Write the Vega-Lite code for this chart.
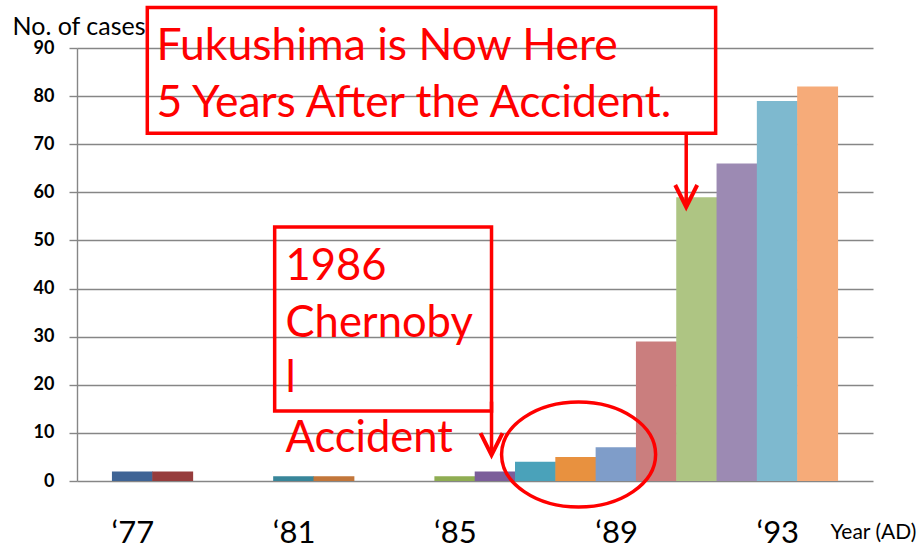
{
  "$schema": "https://vega.github.io/schema/vega-lite/v6.json",
  "width": 796,
  "height": 433,
  "autosize": {"type": "none"},
  "padding": {"left": 77, "top": 48, "right": 51, "bottom": 64},
  "background": "white",
  "config": {"view": {"stroke": null}, "font": "Lato"},
  "resolve": {"axis": {"x": "independent", "y": "independent"}},
  "datasets": {
    "cases": [
      {"year": 1977, "cases": 2, "color": "#3F6495"},
      {"year": 1978, "cases": 2, "color": "#963C3C"},
      {"year": 1979, "cases": 0, "color": "#8FAD52"},
      {"year": 1980, "cases": 0, "color": "#7B5E9A"},
      {"year": 1981, "cases": 1, "color": "#38869A"},
      {"year": 1982, "cases": 1, "color": "#C2763A"},
      {"year": 1983, "cases": 0, "color": "#7F9DC9"},
      {"year": 1984, "cases": 0, "color": "#CA7E7E"},
      {"year": 1985, "cases": 1, "color": "#8FAD52"},
      {"year": 1986, "cases": 2, "color": "#7B5E9A"},
      {"year": 1987, "cases": 4, "color": "#4AA2BA"},
      {"year": 1988, "cases": 5, "color": "#E8913F"},
      {"year": 1989, "cases": 7, "color": "#7F9DC9"},
      {"year": 1990, "cases": 29, "color": "#CA7E7E"},
      {"year": 1991, "cases": 59, "color": "#AEC583"},
      {"year": 1992, "cases": 66, "color": "#9C8AB3"},
      {"year": 1993, "cases": 79, "color": "#7EB9CF"},
      {"year": 1994, "cases": 82, "color": "#F6AB79"}
    ],
    "boxes": [
      {"x1": 1977.37, "x2": 1991.47, "y1": 98.4, "y2": 72.3},
      {"x1": 1980.53, "x2": 1985.91, "y1": 52.8, "y2": 14.55}
    ],
    "arrows": [
      {"x": 1990.74, "y1": 72.3, "y2": 57.3},
      {"x": 1985.91, "y1": 16.5, "y2": 5.8}
    ],
    "heads": [
      {"x": 1990.74, "y": 56.95},
      {"x": 1985.91, "y": 5.4}
    ],
    "circle": [
      {"x": 1988.07, "y": 5.5}
    ],
    "fuku": [
      {"label": "Fukushima is Now Here", "x": 1977.6, "y": 87.5},
      {"label": "5 Years After the Accident.", "x": 1977.6, "y": 75.66}
    ],
    "cher": [
      {"label": "1986", "x": 1980.8, "y": 41.8},
      {"label": "Chernoby", "x": 1980.8, "y": 29.93},
      {"label": "l", "x": 1980.8, "y": 18.5},
      {"label": "Accident", "x": 1980.8, "y": 6.03}
    ]
  },
  "layer": [
    {
      "data": {"name": "cases"},
      "mark": {"type": "bar", "width": 40.9, "clip": false},
      "encoding": {
        "x": {
          "field": "year",
          "type": "quantitative",
          "scale": {"domain": [1975.75, 1995.25], "nice": false, "zero": false},
          "axis": {
            "values": [1977, 1981, 1985, 1989, 1993],
            "format": "d",
            "labelExpr": "'‘' + substring(datum.label, 2)",
            "grid": false,
            "domain": false,
            "ticks": false,
            "tickSize": 0,
            "labelFontSize": 31,
            "labelColor": "black",
            "labelPadding": 61,
            "labelBaseline": "alphabetic",
            "labelDx": 4,
            "labelFlush": false,
            "title": "Year (AD)",
            "titleFontSize": 21,
            "titleFontWeight": "normal",
            "titleColor": "black",
            "titleX": 753,
            "titleY": 57,
            "titleAlign": "left",
            "titleBaseline": "alphabetic"
          }
        },
        "y": {
          "field": "cases",
          "type": "quantitative",
          "scale": {"domain": [0, 90], "nice": false},
          "axis": {
            "values": [0, 10, 20, 30, 40, 50, 60, 70, 80, 90],
            "grid": true,
            "gridColor": "#868686",
            "gridWidth": 1.4,
            "domainColor": "#868686",
            "domainWidth": 1.4,
            "tickColor": "#868686",
            "tickWidth": 1.4,
            "tickSize": 8,
            "labelFontSize": 18,
            "labelFontWeight": "bold",
            "labelColor": "black",
            "labelPadding": 15,
            "title": "No. of cases",
            "titleAngle": 0,
            "titleAlign": "left",
            "titleBaseline": "alphabetic",
            "titleX": -65,
            "titleY": -14,
            "titleFontSize": 25,
            "titleFontWeight": "normal",
            "titleColor": "black"
          }
        },
        "color": {"field": "color", "type": "nominal", "scale": null}
      }
    },
    {
      "data": {"name": "boxes"},
      "mark": {"type": "rect", "fill": null, "stroke": "#FF0000", "strokeWidth": 3.5, "clip": false},
      "encoding": {
        "x": {"field": "x1", "type": "quantitative", "axis": null},
        "x2": {"field": "x2"},
        "y": {"field": "y1", "type": "quantitative", "axis": null},
        "y2": {"field": "y2"}
      }
    },
    {
      "data": {"name": "arrows"},
      "mark": {"type": "rule", "stroke": "#FF0000", "strokeWidth": 3.5, "clip": false},
      "encoding": {
        "x": {"field": "x", "type": "quantitative", "axis": null},
        "y": {"field": "y1", "type": "quantitative", "axis": null},
        "y2": {"field": "y2"}
      }
    },
    {
      "data": {"name": "heads"},
      "mark": {"type": "point", "shape": "M-0.5,-1L0,0L0.5,-1", "size": 1936, "filled": false, "stroke": "#FF0000", "strokeWidth": 4, "opacity": 1, "clip": false},
      "encoding": {
        "x": {"field": "x", "type": "quantitative", "axis": null},
        "y": {"field": "y", "type": "quantitative", "axis": null}
      }
    },
    {
      "data": {"name": "circle"},
      "mark": {"type": "point", "shape": "M-1.467,0A1.467,1,0,1,0,1.467,0A1.467,1,0,1,0,-1.467,0Z", "size": 11025, "filled": false, "stroke": "#FF0000", "strokeWidth": 3.5, "opacity": 1, "clip": false},
      "encoding": {
        "x": {"field": "x", "type": "quantitative", "axis": null},
        "y": {"field": "y", "type": "quantitative", "axis": null}
      }
    },
    {
      "data": {"name": "fuku"},
      "mark": {"type": "text", "font": "Lato", "fontSize": 44.5, "fill": "#FF0000", "align": "left", "baseline": "alphabetic", "clip": false},
      "encoding": {
        "x": {"field": "x", "type": "quantitative", "axis": null},
        "y": {"field": "y", "type": "quantitative", "axis": null},
        "text": {"field": "label"}
      }
    },
    {
      "data": {"name": "cher"},
      "mark": {"type": "text", "font": "Lato", "fontSize": 43.5, "fill": "#FF0000", "align": "left", "baseline": "alphabetic", "clip": false},
      "encoding": {
        "x": {"field": "x", "type": "quantitative", "axis": null},
        "y": {"field": "y", "type": "quantitative", "axis": null},
        "text": {"field": "label"}
      }
    }
  ]
}
